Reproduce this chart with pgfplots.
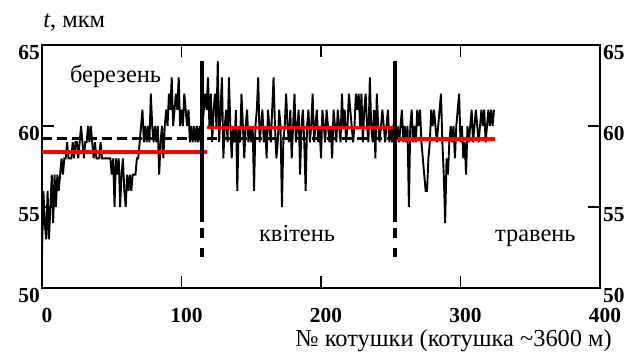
\documentclass[border=0pt]{standalone}
\usepackage{fontspec}
\setmainfont{Liberation Serif}
\usepackage{pgfplots}
\pgfplotsset{compat=1.18}
\usetikzlibrary{calc}
\definecolor{myred}{RGB}{255,0,0}
\begin{document}
\begin{tikzpicture}
\pgfplotsset{
  common/.style={
    width=558bp, height=243bp, scale only axis,
    xmin=0, xmax=400, ymin=50, ymax=65,
    xtick={0,100,200,300,400}, ytick={50,55,60,65},
    tick align=inside, major tick length=12bp,
    /pgf/number format/assume math mode=true,
    ticklabel style={font=\fontsize{21.5}{21.5}\selectfont\bfseries, inner sep=0pt},
  }
}
\begin{axis}[common, name=ax, clip=false,
  xtick pos=both, ytick pos=both,
  xticklabel pos=left, yticklabel pos=left,
  axis line style={line width=1.6bp},
  tick style={line width=1.6bp, black},
  xticklabel style={anchor=north, yshift=-20bp, xshift=5bp},
  yticklabel style={anchor=north east, xshift=-2bp},
]
% overall mean (dashed)
\addplot[black, line width=3bp, dash pattern=on 10bp off 5bp] coordinates {(0,59.25)(325,59.25)};
% data
\addplot[black, line width=1.9bp, line join=miter, miter limit=4] coordinates {
(0,52)(1,56)(2,54)(3,53)(4,56)(5,53)(6,55)(7,57)(8,54)(9,57)
(10,55)(11,57)(12,56)(13,57)(14,58)(15,57)(16,58)(17,58)(18,59)(19,58)
(20,58)(21,58)(22,59)(23,58)(24,59)(25,59)(26,58)(27,59)(28,60)(29,59)
(30,58)(31,59)(32,59)(33,60)(34,59)(35,60)(36,59)(37,58)(38,59)(39,58)
(40,58)(41,58)(42,59)(43,58)(44,58)(45,58)(46,58)(47,58)(48,58)(49,58)
(50,57)(51,58)(52,55)(53,58)(54,57)(55,58)(56,55)(57,57)(58,58)(59,56)
(60,55)(61,57)(62,56)(63,57)(64,56)(65,57)(66,57)(67,57)(68,58)(69,58)
(70,59)(71,60)(72,61)(73,59)(74,60)(75,59)(76,60)(77,59)(78,62)(79,60)
(80,59)(81,60)(82,59)(83,60)(84,57)(85,59)(86,60)(87,58)(88,60)(89,61)
(90,60)(91,62)(92,61)(93,63)(94,60)(95,61)(96,62)(97,61)(98,63)(99,60)
(100,61)(101,60)(102,62)(103,61)(104,60)(105,61)(106,59)(107,60)(108,59)(109,60)
(110,59)(111,60)(112,59)(113,60)(114,59)(115,60)
(116,61)(117,62)(118,61)(119,63)(120,60)(121,62)(122,59)(123,61)(124,62)(125,60)
(126,64)(127,59)(128,61)(129,63)(130,58)(131,60)(132,61)(133,59)(134,63)(135,60)
(136,58)(137,60)(138,59)(139,61)(140,56)(141,60)(142,59)(143,62)(144,60)(145,58)
(146,60)(147,61)(148,59)(149,60)(150,59)(151,60)(152,56)(153,60)(154,61)(155,63)
(156,59)(157,60)(158,61)(159,59)(160,60)(161,58)(162,61)(163,60)(164,59)(165,61)
(166,63)(167,60)(168,58)(169,59)(170,61)(171,60)(172,55)(173,59)(174,60)(175,62)
(176,60)(177,59)(178,61)(179,58)(180,60)(181,62)(182,59)(183,60)(184,61)(185,57)
(186,60)(187,61)(188,59)(189,56)(190,60)(191,61)(192,59)(193,60)(194,62)(195,59)
(196,60)(197,61)(198,59)(199,60)(200,58)(201,61)(202,60)(203,59)(204,61)(205,60)
(206,59)(207,60)(208,58)(209,61)(210,60)(211,59)(212,61)(213,60)(214,59)(215,62)
(216,60)(217,61)(218,59)(219,60)(220,62)(221,61)(222,60)(223,59)(224,60)(225,62)
(226,61)(227,62)(228,60)(229,62)(230,59)(231,61)(232,62)(233,60)(234,59)(235,63)
(236,60)(237,59)(238,61)(239,58)(240,62)(241,60)(242,59)(243,60)(244,61)(245,60)
(246,59)(247,60)(248,61)(249,59)(250,60)(251,59)(252,60)(253,61)
(254,59)(255,60)(256,59)(257,60)(258,61)(259,59)(260,60)(261,59)(262,60)(263,55)
(264,60)(265,61)(266,59)(267,60)(268,59)(269,61)(270,60)(271,61)(272,59)(273,58)
(274,57)(275,56)(276,56)(277,58)(278,59)(279,61)(280,60)(281,61)(282,60)(283,59)
(284,60)(285,61)(286,62)(287,59)(288,57)(289,54)(290,58)(291,57)(292,59)(293,60)
(294,59)(295,60)(296,58)(297,60)(298,61)(299,62)(300,59)(301,60)(302,58)(303,59)
(304,57)(305,60)(306,59)(307,60)(308,61)(309,59)(310,60)(311,61)(312,60)(313,59)
(314,60)(315,61)(316,60)(317,61)(318,59)(319,60)(320,61)(321,60)(322,61)(323,60)(324,61)
};
% monthly means
\addplot[myred, line width=3.5bp] coordinates {(0,58.4)(118,58.4)};
\addplot[myred, line width=3.5bp] coordinates {(118,59.9)(255,59.9)};
\addplot[myred, line width=3.5bp] coordinates {(255,59.2)(325,59.2)};
% month boundaries
\addplot[black, line width=4bp] coordinates {(115,64)(115,54.1)};
\addplot[black, line width=4bp] coordinates {(115,53.7)(115,53.1)};
\addplot[black, line width=4bp] coordinates {(115,52.5)(115,51.9)};
\addplot[black, line width=4bp] coordinates {(253,64)(253,54.1)};
\addplot[black, line width=4bp] coordinates {(253,53.7)(253,53.1)};
\addplot[black, line width=4bp] coordinates {(253,52.5)(253,51.9)};
% texts
\node[anchor=base west, font=\fontsize{24.5}{24.5}\selectfont, inner sep=0pt] at (axis cs:20,62.7) {березень};
\node[anchor=base west, font=\fontsize{24.5}{24.5}\selectfont, inner sep=0pt] at (axis cs:155.5,52.9) {квітень};
\node[anchor=base west, font=\fontsize{24.5}{24.5}\selectfont, inner sep=0pt] at (axis cs:324.7,52.9) {травень};
\node[anchor=base east, font=\fontsize{24.5}{24.5}\selectfont, inner sep=0pt] at (rel axis cs:1.0215,-0.239) {№ котушки (котушка \char`\~3600 м)};
\node[anchor=base west, font=\fontsize{24.5}{24.5}\selectfont, inner sep=0pt] at (rel axis cs:0.002,1.074) {\textit{t}, мкм};
\end{axis}
\begin{axis}[common,
  axis x line=none, axis y line*=right,
  ytick pos=right, yticklabel pos=right,
  y axis line style={draw=none}, ytick style={draw=none},
  yticklabel style={anchor=north west, xshift=3bp},
]
\addplot[draw=none] coordinates {(0,50)(400,65)};
\end{axis}
\pgfresetboundingbox
\useasboundingbox ($(ax.south west)+(-42bp,-68bp)$) rectangle ($(ax.north east)+(28bp,45bp)$);
\end{tikzpicture}
\end{document}
